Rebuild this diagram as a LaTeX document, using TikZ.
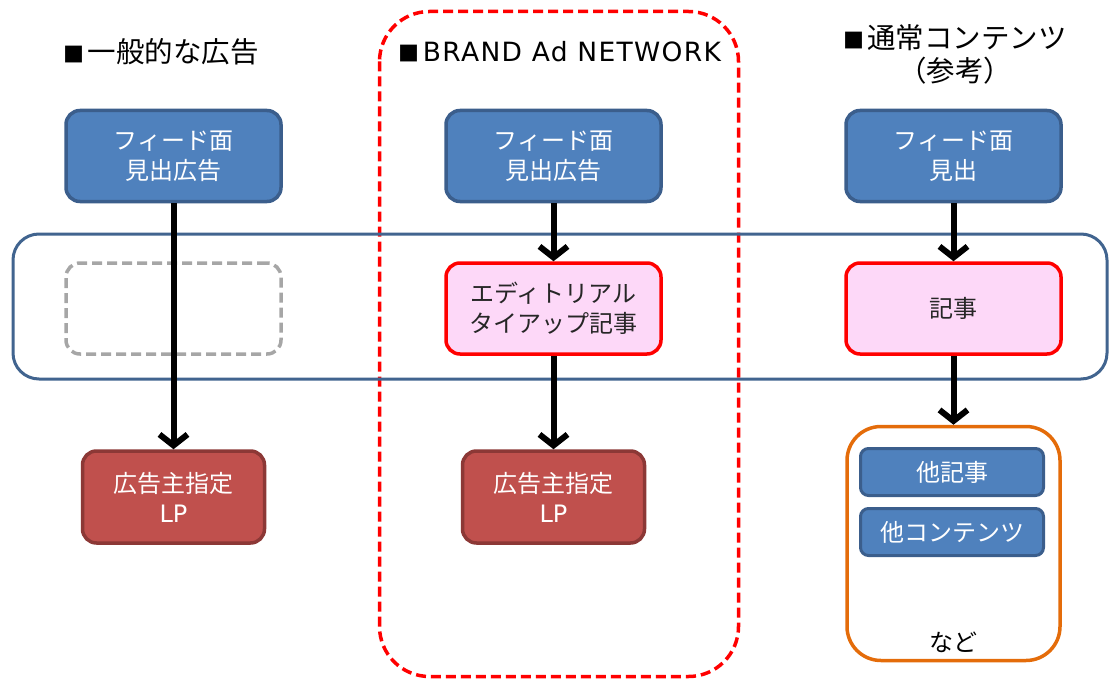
\documentclass[tikz,border=0pt]{standalone}
\usepackage{fontspec}
\setmainfont{Noto Sans CJK JP}
\newfontfamily\latinfont{DejaVu Sans}
\newfontfamily\widelatin[LetterSpace=5]{DejaVu Sans}
\usetikzlibrary{arrows.meta}
\definecolor{feedfill}{HTML}{4F81BD}
\definecolor{feeddraw}{HTML}{3B5E8C}
\definecolor{lpfill}{HTML}{C0504D}
\definecolor{lpdraw}{HTML}{8C3836}
\definecolor{storyfill}{HTML}{FDD8F8}
\definecolor{banddraw}{HTML}{41648F}
\definecolor{otherdraw}{HTML}{E46C0A}
\definecolor{dummydraw}{HTML}{A6A6A6}
\newcommand{\sqmark}{{\fontsize{21}{21}\selectfont ■}\hspace{3pt}}
\tikzset{
  boxtext/.style={align=center,font=\fontsize{24}{30}\selectfont},
  feed/.style={boxtext,draw=feeddraw,fill=feedfill,text=white,line width=3.5pt,
    rounded corners=14pt,minimum width=215pt,minimum height=91pt},
  story/.style={boxtext,draw=red,fill=storyfill,text=black!85,line width=3.5pt,
    rounded corners=14pt,minimum width=215pt,minimum height=91pt},
  dummy/.style={draw=dummydraw,line width=3.5pt,dash pattern=on 10pt off 5pt,
    rounded corners=14pt,minimum width=215pt,minimum height=91pt},
  lp/.style={boxtext,draw=lpdraw,fill=lpfill,text=white,line width=3.5pt,
    rounded corners=14pt,minimum width=182pt,minimum height=92pt},
  others/.style={draw=otherdraw,line width=3.5pt,rounded corners=34pt,
    minimum width=213pt,minimum height=234pt},
  sub/.style={boxtext,draw=feeddraw,fill=feedfill,text=white,line width=3pt,
    rounded corners=8pt,minimum width=183pt,minimum height=47pt},
  title/.style={align=center,font=\fontsize{28.5}{33}\selectfont},
  flow/.style={line width=6pt,-{Straight Barb[length=11pt,width=28pt]}},
}
\begin{document}
\begin{tikzpicture}[x=1pt,y=-1pt]
\useasboundingbox (0,0) rectangle (1110,679);

\draw [red,line width=3.5pt,dash pattern=on 10pt off 5pt,rounded corners=50pt]
  (379.5,11.5) rectangle (738.5,676.5);
\draw [banddraw,line width=3pt,rounded corners=26pt] (13,234) rectangle (1107,379);

\node [title] (titleA) at (161,52) {\sqmark 一般的な広告};
\node [title] (titleB) at (560,52) {\sqmark{\widelatin\fontsize{26.5}{33}\selectfont BRAND Ad NETWORK}};
\node [title] (titleC) at (955,54) {\sqmark 通常コンテンツ\\（参考）};

\node [feed] (feedA) at (173.5,156) {フィード面\\見出広告};
\node [feed] (feedB) at (553.5,156) {フィード面\\見出広告};
\node [feed] (feedC) at (953.5,156) {フィード面\\見出};

\node [dummy] (emptyA) at (173.5,308.5) {};
\node [story] (tieup) at (553.5,308.5) {エディトリアル\\タイアップ記事};
\node [story] (article) at (953.5,308.5) {記事};

\node [lp] (lpA) at (173.5,497) {広告主指定\\{\latinfont LP}};
\node [lp] (lpB) at (553.5,497) {広告主指定\\{\latinfont LP}};

\node [others] (more) at (953.5,543.5) {};
\node [sub] (subA) at (952,472) {他記事};
\node [sub] (subB) at (952,532) {他コンテンツ};
\node [boxtext] (etc) at (953,642) {など};

\draw [flow] (feedA) -- (lpA);
\draw [flow] (feedB) -- (tieup);
\draw [flow] (tieup) -- (lpB);
\draw [flow] (feedC) -- (article);
\draw [flow] (article) -- (more);
\end{tikzpicture}
\end{document}
